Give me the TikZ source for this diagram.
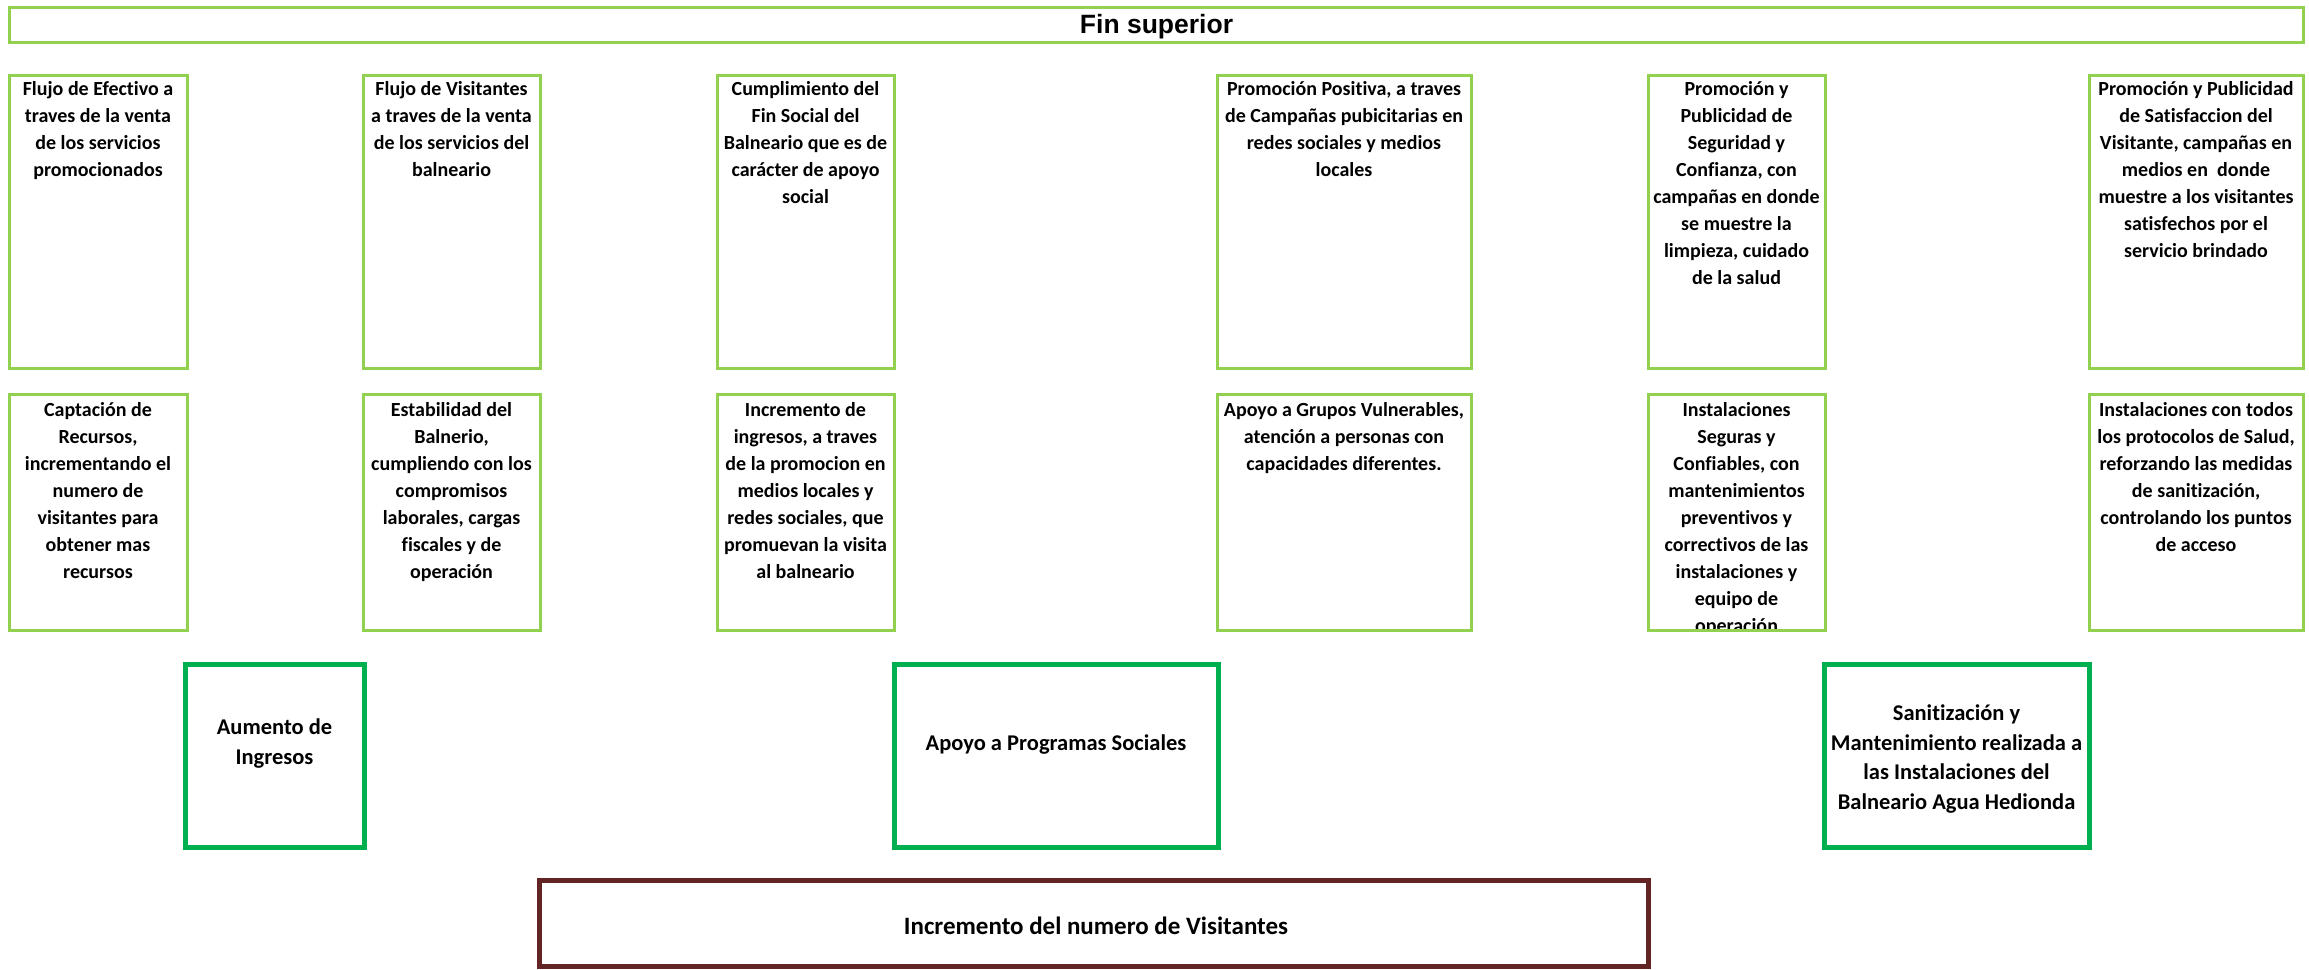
\documentclass[tikz,border=0pt]{standalone}
\usepackage{fontspec}
\setmainfont{Carlito}[Ligatures=NoCommon]
\newfontfamily\titlefont{Liberation Sans}
\definecolor{lgreen}{HTML}{92D050}
\definecolor{dgreen}{HTML}{00B050}
\definecolor{maroon}{HTML}{632523}
\begin{document}
\begin{tikzpicture}[x=1pt,y=-1pt,
  lbox/.style={draw=lgreen,line width=3pt,inner sep=0pt,rectangle},
  dbox/.style={draw=dgreen,line width=5pt,inner sep=0pt,rectangle},
  mbox/.style={draw=maroon,line width=5pt,inner sep=0pt,rectangle},
  rowtxt/.style={anchor=north,inner sep=0pt,align=center,font=\bfseries\fontsize{20}{27}\selectfont},
  midtxt/.style={anchor=north,inner sep=0pt,align=center,font=\bfseries\fontsize{22.5}{29.5}\selectfont}]
\useasboundingbox (0,0) rectangle (2309,969);
\fill[white] (0,0) rectangle (2309,969);
% title
\node[lbox,minimum width=2294pt,minimum height=35pt] (tbox) at (1156,24.5) {};
\node[anchor=base,inner sep=0pt,font=\titlefont\bfseries\fontsize{26.5}{32}\selectfont] (ttxt) at (1156.5,33.5) {Fin superior};
% row 1 boxes
\node[lbox,minimum width=178pt,minimum height=293pt] (a1) at (98,221.5) {};
\node[lbox,minimum width=177pt,minimum height=293pt] (a2) at (451.5,221.5) {};
\node[lbox,minimum width=177pt,minimum height=293pt] (a3) at (805.5,221.5) {};
\node[lbox,minimum width=254pt,minimum height=293pt] (a4) at (1344,221.5) {};
\node[lbox,minimum width=177pt,minimum height=293pt] (a5) at (1736.5,221.5) {};
\node[lbox,minimum width=214pt,minimum height=293pt] (a6) at (2196,221.5) {};
\node[rowtxt] (ta1) at (98,76.7) {\strut Flujo de Efectivo a\\traves de la venta\\de los servicios\\promocionados};
\node[rowtxt] (ta2) at (451.5,76.7) {\strut Flujo de Visitantes\\a traves de la venta\\de los servicios del\\balneario};
\node[rowtxt] (ta3) at (805.5,76.7) {\strut Cumplimiento del\\Fin Social del\\Balneario que es de\\carácter de apoyo\\social};
\node[rowtxt] (ta4) at (1344,76.7) {\strut Promoción Positiva, a traves\\de Campañas pubicitarias en\\redes sociales y medios\\locales};
\node[rowtxt] (ta5) at (1736.5,76.7) {\strut Promoción y\\Publicidad de\\Seguridad y\\Confianza, con\\campañas en donde\\se muestre la\\limpieza, cuidado\\de la salud};
\node[rowtxt] (ta6) at (2196,76.7) {\strut Promoción y Publicidad\\de Satisfaccion del\\Visitante, campañas en\\medios en\ \ donde\\muestre a los visitantes\\satisfechos por el\\servicio brindado};
% row 2 boxes
\node[lbox,minimum width=178pt,minimum height=236pt] (b1) at (98,512) {};
\node[lbox,minimum width=177pt,minimum height=236pt] (b2) at (451.5,512) {};
\node[lbox,minimum width=177pt,minimum height=236pt] (b3) at (805.5,512) {};
\node[lbox,minimum width=254pt,minimum height=236pt] (b4) at (1344,512) {};
\node[lbox,minimum width=214pt,minimum height=236pt] (b6) at (2196,512) {};
\node[rowtxt] (tb1) at (98,397.7) {\strut Captación de\\Recursos,\\incrementando el\\numero de\\visitantes para\\obtener mas\\recursos};
\node[rowtxt] (tb2) at (451.5,397.7) {\strut Estabilidad del\\Balnerio,\\cumpliendo con los\\compromisos\\laborales, cargas\\fiscales y de\\operación};
\node[rowtxt] (tb3) at (805.5,397.7) {\strut Incremento de\\ingresos, a traves\\de la promocion en\\medios locales y\\redes sociales, que\\promuevan la visita\\al balneario};
\node[rowtxt] (tb4) at (1344,397.7) {\strut Apoyo a Grupos Vulnerables,\\atención a personas con\\capacidades diferentes.};
\node[rowtxt] (tb6) at (2196,397.7) {\strut Instalaciones con todos\\los protocolos de Salud,\\reforzando las medidas\\de sanitización,\\controlando los puntos\\de acceso};
\begin{scope}
\clip (1648,394) rectangle (1825,629);
\node[rowtxt] (tb5) at (1736.5,397.7) {\strut Instalaciones\\Seguras y\\Confiables, con\\mantenimientos\\preventivos y\\correctivos de las\\instalaciones y\\equipo de\\operación};
\end{scope}
\node[lbox,minimum width=177pt,minimum height=236pt] (b5) at (1736.5,512) {};
% row 3
\node[dbox,minimum width=179pt,minimum height=183pt] (c1) at (274.5,755.5) {};
\node[dbox,minimum width=324pt,minimum height=183pt] (c2) at (1056,755.5) {};
\node[dbox,minimum width=265pt,minimum height=183pt] (c3) at (1956.5,755.5) {};
\node[midtxt] (tc1) at (274.5,713.8) {\strut Aumento de\\Ingresos};
\node[midtxt] (tc2) at (1056,729.8) {\strut Apoyo a Programas Sociales};
\node[midtxt] (tc3) at (1956.5,699.8) {\strut Sanitización y\\Mantenimiento realizada a\\las Instalaciones del\\Balneario Agua Hedionda};
% bottom
\node[mbox,minimum width=1109pt,minimum height=86pt] (d1) at (1093.5,923) {};
\node[anchor=base,inner sep=0pt,font=\bfseries\fontsize{25}{30}\selectfont] (td1) at (1096,934.3) {Incremento del numero de Visitantes};
\end{tikzpicture}
\end{document}
